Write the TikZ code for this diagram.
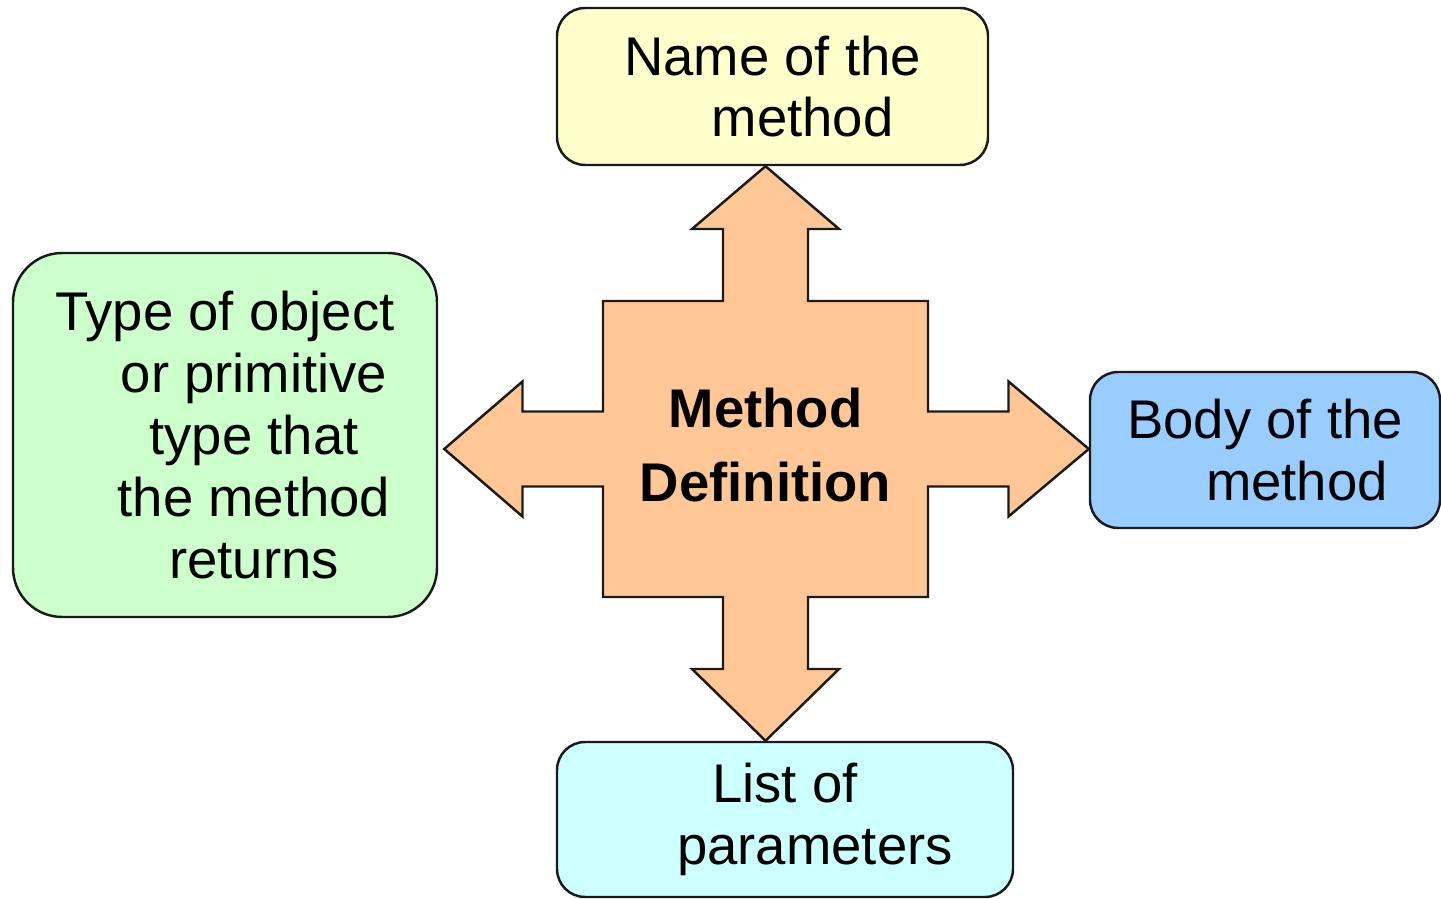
\documentclass[tikz,border=0pt]{standalone}
\usepackage{fontspec}
\setmainfont{Liberation Sans}
\usepackage{tikz}
\usetikzlibrary{calc}
\usepackage{xcolor}
\definecolor{boxyellow}{HTML}{FFFFCC}
\definecolor{boxgreen}{HTML}{CCFFCC}
\definecolor{boxblue}{HTML}{99CCFF}
\definecolor{boxcyan}{HTML}{CCFFFF}
\definecolor{crossorange}{HTML}{FFC795}
\definecolor{edgedark}{HTML}{1A1A1A}

\begin{document}
\begin{tikzpicture}[
    every node/.style={font=\fontsize{15.5}{17.6}\selectfont},
    box/.style={draw=edgedark, rounded corners=8pt, inner sep=0pt, align=center, line width=0.7pt}
]
    \useasboundingbox (0,0) rectangle (14.41,8.98);

    % Outer boxes
    \node[box, fill=boxyellow, minimum width=4.31cm, minimum height=1.57cm] (name) at (7.725,8.115)
        {Name of the\\\hspace*{0.6cm}method};
    \node[box, fill=boxgreen, rounded corners=14pt, minimum width=4.24cm, minimum height=3.64cm] (rettype) at (2.25,4.63)
        {Type of object\\\hspace*{0.58cm}or primitive\\\hspace*{0.58cm}type that\\\hspace*{0.58cm}the method\\\hspace*{0.58cm}returns};
    \node[box, fill=boxblue, minimum width=3.5cm, minimum height=1.56cm] (body) at (12.65,4.48)
        {Body of the\\\hspace*{0.64cm}method};
    \node[box, fill=boxcyan, minimum width=4.56cm, minimum height=1.55cm] (params) at (7.85,0.785)
        {List of\\\hspace*{0.6cm}parameters};

    % Four-way arrow
    \coordinate (c) at (7.655,4.49);
    \begin{scope}[shift={(c)}]
        \draw[fill=crossorange, draw=edgedark, line width=0.7pt, line join=miter]
            (-0.425,1.48) -- (-0.425,2.2) -- (-0.735,2.2) -- (c |- name.south)
            -- (0.735,2.2) -- (0.425,2.2) -- (0.425,1.48) -- (1.625,1.48)
            -- (1.625,0.375) -- (2.43,0.375) -- (2.43,0.675) -- (c -| body.west)
            -- (2.43,-0.675) -- (2.43,-0.375) -- (1.625,-0.375) -- (1.625,-1.48)
            -- (0.425,-1.48) -- (0.425,-2.2) -- (0.735,-2.2) -- (c |- params.north)
            -- (-0.735,-2.2) -- (-0.425,-2.2) -- (-0.425,-1.48) -- (-1.625,-1.48)
            -- (-1.625,-0.375) -- (-2.43,-0.375) -- (-2.43,-0.675) -- ($(c -| rettype.east)+(0.06,0)$)
            -- (-2.43,0.675) -- (-2.43,0.375) -- (-1.625,0.375) -- (-1.625,1.48) -- cycle;
    \end{scope}

    % Centre label
    \node[align=center, font=\fontsize{15.5}{21.3}\selectfont\bfseries] (mdef) at ($(c)+(0,0.04)$) {Method\\Definition};
\end{tikzpicture}
\end{document}
